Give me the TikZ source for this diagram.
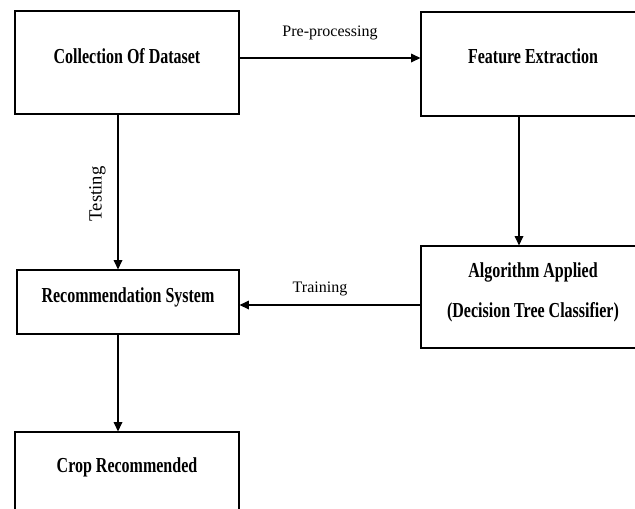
\documentclass[tikz,border=0pt]{standalone}
\usepackage{fontspec}
\setmainfont{Liberation Serif}
\newfontfamily\boxfont[FakeStretch=0.75]{Liberation Serif}
\usepackage{xcolor}
\usepackage{tikz}
\usetikzlibrary{arrows.meta}

\begin{document}
\begin{tikzpicture}[x=0.75pt, y=-0.75pt,
  box/.style={draw, line width=0.9pt, inner sep=0pt, minimum width=168pt},
  boxtext/.style={inner sep=0pt, anchor=base, font=\boxfont\bfseries\fontsize{16}{19}\selectfont},
  flowlabel/.style={inner sep=0pt, anchor=base, font=\fontsize{12}{14}\selectfont},
  flow/.style={line width=0.9pt, -{Triangle[length=7pt, width=6.5pt]}}]
\useasboundingbox (0,0) rectangle (635,508);
\clip (0,0) rectangle (635,508);
\node[box, minimum height=77.25pt] (data) at (127,62.5) {};
\node[box, minimum height=78pt] (feat) at (533,64) {};
\node[box, minimum width=166.5pt, minimum height=48pt] (recsys) at (128,302) {};
\node[box, minimum height=76.5pt] (algo) at (533,297) {};
\node[box, minimum height=77.25pt] (crop) at (127,483.5) {};
\node[boxtext] (datatext) at (127,63) {Collection Of Dataset};
\node[boxtext] (feattext) at (533,63) {Feature Extraction};
\node[boxtext] (recsystext) at (128,302) {Recommendation System};
\node[boxtext] (algotext) at (533,277) {Algorithm Applied};
\node[boxtext] (algoname) at (533,317) {(Decision Tree Classifier)};
\node[boxtext] (croptext) at (127,472) {Crop Recommended};
\node[flowlabel] (prelabel) at (330,36) {Pre-processing};
\node[flowlabel] (trainlabel) at (320,292) {Training};
\node[flowlabel, rotate=90, font=\fontsize{14}{16}\selectfont] (testlabel) at (101.5,194) {Testing};
\draw[flow] ([yshift=3.375pt]data.east) -- ([yshift=3.375pt]data.east -| feat.west);
\draw[flow] ([xshift=-10.5pt]feat.south) -- ([xshift=-10.5pt]feat.south |- algo.north);
\draw[flow] ([yshift=-6pt]algo.west) -- ([yshift=-6pt]algo.west -| recsys.east);
\draw[flow] ([xshift=-6.75pt]data.south) -- ([xshift=-6.75pt]data.south |- recsys.north);
\draw[flow] ([xshift=-7.5pt]recsys.south) -- ([xshift=-7.5pt]recsys.south |- crop.north);
\end{tikzpicture}
\end{document}
